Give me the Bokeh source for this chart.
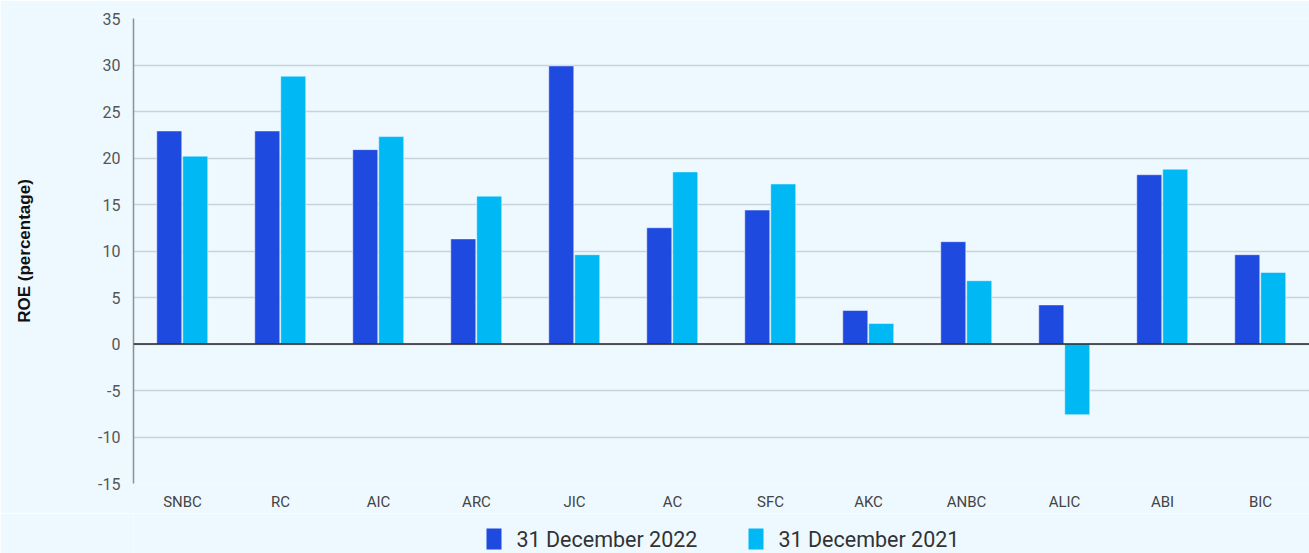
from bokeh.plotting import figure
from bokeh.layouts import column
from bokeh.models import (FactorRange, Range1d, FixedTicker, Span,
                          ColumnDataSource)
from bokeh.core.properties import value
from bokeh.transform import dodge
from bokeh.embed import file_html
from bokeh.resources import INLINE

# Return on equity by company (percent)
companies = ["SNBC", "RC", "AIC", "ARC", "JIC", "AC", "SFC", "AKC",
             "ANBC", "ALIC", "ABI", "BIC"]
roe_2022 = [22.9, 22.9, 20.9, 11.3, 29.9, 12.5, 14.4, 3.6, 11.0, 4.2, 18.2, 9.6]
roe_2021 = [20.2, 28.8, 22.3, 15.9, 9.6, 18.5, 17.2, 2.2, 6.8, -7.6, 18.8, 7.7]
series_labels = ["31 December 2022", "31 December 2021"]
y_ticks = list(range(-15, 36, 5))

BG = "#EEF9FF"
DARK = "#1F4AE0"
LIGHT = "#00B9F4"
GRID = "#C6D3DC"
W = 1309
CHART_H = 513
STRIP_H = 553 - CHART_H

src = ColumnDataSource(dict(company=companies, y22=roe_2022, y21=roe_2021))

p = figure(
    width=W, height=CHART_H,
    x_range=FactorRange(*companies, range_padding=0),
    y_range=Range1d(-15, 35),
    output_backend="svg", toolbar_location=None,
    background_fill_color=BG, border_fill_color=BG,
    min_border_left=133, min_border_right=0,
    min_border_top=18, min_border_bottom=30,
    outline_line_color=None,
)

bar_style = dict(width=0.255, line_color="white", line_alpha=0.45, line_width=1)
p.vbar(x=dodge("company", -0.135, range=p.x_range), top="y22", source=src,
       fill_color=DARK, **bar_style)
p.vbar(x=dodge("company", 0.13, range=p.x_range), top="y21", source=src,
       fill_color=LIGHT, **bar_style)

# zero baseline
p.add_layout(Span(location=0, dimension="width", line_color="#222222",
                  line_width=1.5))

# y axis
p.yaxis.ticker = FixedTicker(ticks=y_ticks)
p.yaxis.major_label_overrides = {t: str(t) for t in y_ticks}
p.yaxis.axis_label = "ROE (percentage)"
p.yaxis.axis_label_text_font = "Liberation Sans"
p.yaxis.axis_label_text_font_style = "bold"
p.yaxis.axis_label_text_font_size = "17px"
p.yaxis.axis_label_text_color = "#111111"
p.yaxis.axis_label_standoff = 61
p.yaxis.major_label_text_font = "Roboto"
p.yaxis.major_label_text_font_size = "16px"
p.yaxis.major_label_text_color = "#555555"
p.yaxis.major_label_standoff = 7
p.yaxis.axis_line_color = "#8A9096"
p.yaxis.axis_line_width = 1.5
p.yaxis.major_tick_line_color = None
p.yaxis.minor_tick_line_color = None

# x axis
p.xaxis.axis_line_color = None
p.xaxis.major_tick_line_color = None
p.xaxis.minor_tick_line_color = None
p.xaxis.major_label_text_font = "Roboto"
p.xaxis.major_label_text_font_size = "15px"
p.xaxis.major_label_text_color = "#444444"
p.xaxis.major_label_standoff = 3

p.xgrid.grid_line_color = None
p.ygrid.grid_line_color = GRID
p.ygrid.grid_line_width = 1.5

# legend strip under the chart; its frame lines up with the chart frame and
# its ranges are in pixels (y grows downward)
strip = figure(
    width=W, height=STRIP_H,
    x_range=Range1d(0, W - 133), y_range=Range1d(STRIP_H, 0),
    output_backend="svg", toolbar_location=None,
    background_fill_color=BG, border_fill_color=BG,
    min_border=0, outline_line_color=None,
    x_axis_location=None, y_axis_location=None,
)
strip.grid.visible = False

key_left = [353, 615]      # swatch left edges
key_top, key_w, key_h, key_gap = 15, 15, 21, 15
key = ColumnDataSource(dict(
    x=[k + key_w / 2 for k in key_left],
    y=[key_top + key_h / 2] * 2,
    tx=[k + key_w + key_gap for k in key_left],
    label=series_labels,
    color=[DARK, LIGHT],
))
strip.rect(x="x", y="y", width=key_w, height=key_h, source=key,
           fill_color="color", line_color=None)
strip.text(x="tx", y="y", text="label", source=key,
           text_font=value("Roboto"), text_font_size="21.5px",
           text_color="#333333", text_baseline="middle", text_align="left")

layout = column(p, strip, spacing=0)
open("out.html", "w").write(file_html(layout, INLINE))
